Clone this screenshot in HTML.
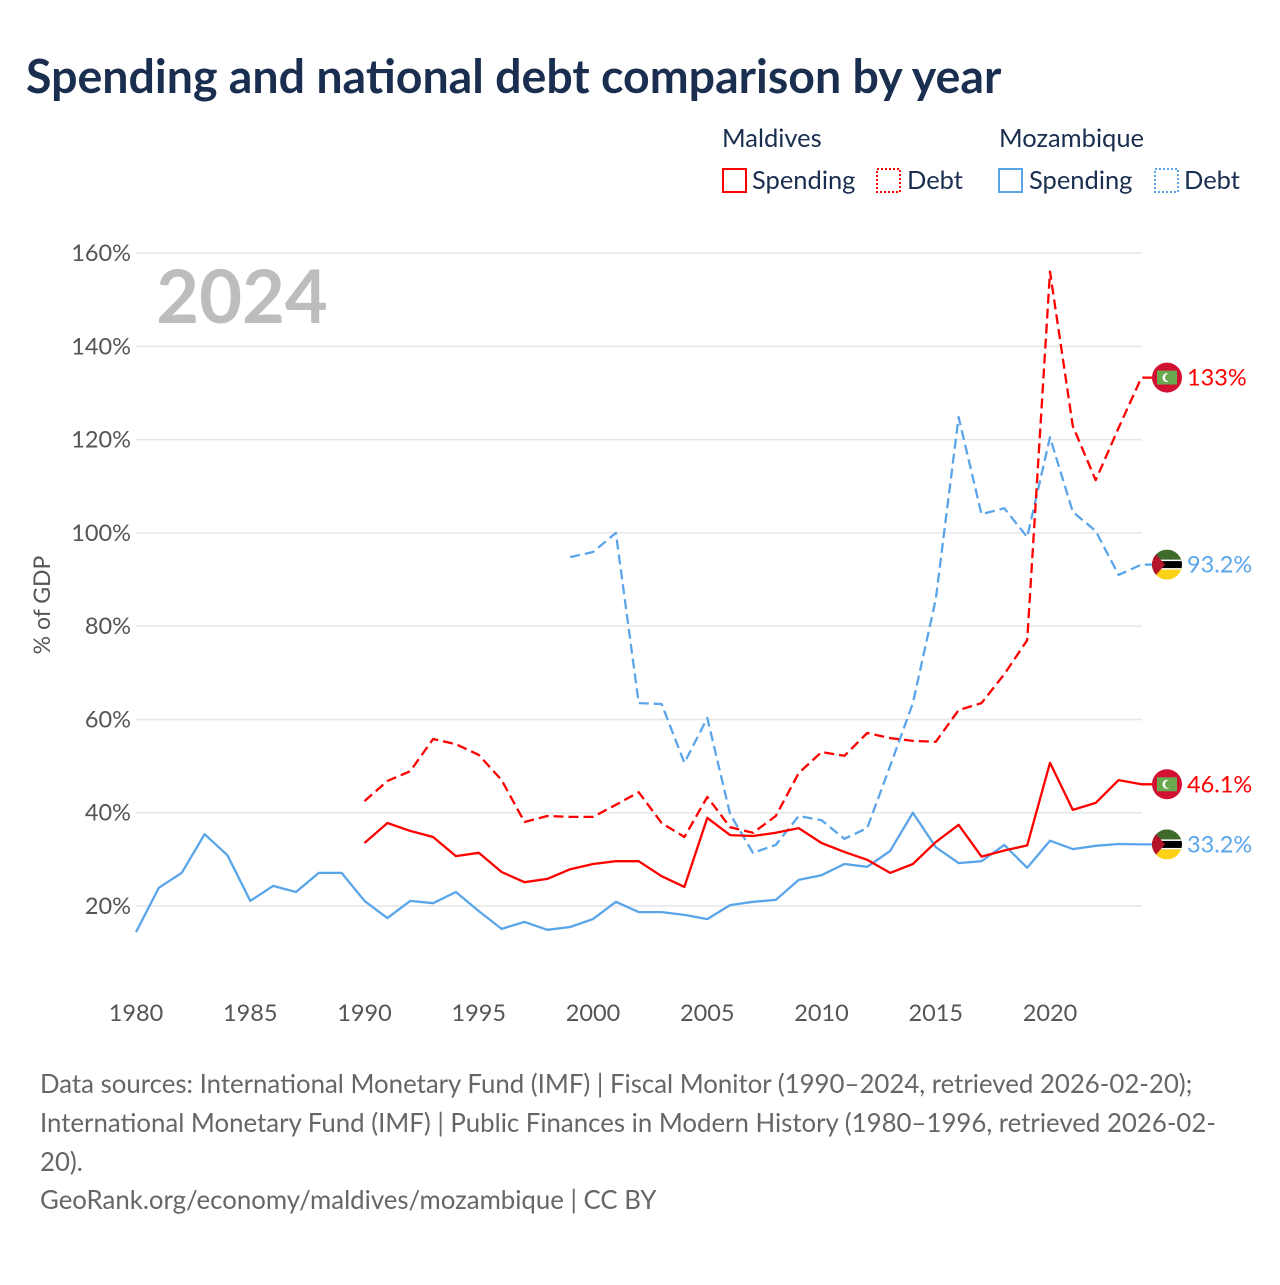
<!DOCTYPE html>
<html><head><meta charset="utf-8">
<style>
body{margin:0;background:#fff;font-family:"Liberation Sans",sans-serif;}
svg text{font-family:"Lato","Liberation Sans",sans-serif;}
</style></head>
<body>
<svg id="chart" width="1280" height="1280" xmlns="http://www.w3.org/2000/svg">
<rect width="1280" height="1280" fill="#fff"/>
<text x="26" y="93" font-size="46.5" font-weight="bold" fill="#1a2e4f">Spending and national debt comparison by year</text>
<g font-size="25.5" fill="#1a2e4f">
<text x="722" y="147">Maldives</text>
<text x="999" y="147">Mozambique</text>
<rect x="723" y="169" width="23" height="23" fill="none" stroke="#f00" stroke-width="2"/>
<text x="752" y="189">Spending</text>
<rect x="877" y="169" width="23" height="23" fill="none" stroke="#f00" stroke-width="2" stroke-dasharray="2,2"/>
<text x="907" y="189">Debt</text>
<rect x="999" y="169" width="23" height="23" fill="none" stroke="#5aa5ea" stroke-width="2"/>
<text x="1029" y="189">Spending</text>
<rect x="1155" y="169" width="23" height="23" fill="none" stroke="#5aa5ea" stroke-width="2" stroke-dasharray="2,2"/>
<text x="1184" y="189">Debt</text>
</g>
<text x="242" y="323" font-size="74" font-weight="bold" fill="#bdbdbd" text-anchor="middle">2024</text>
<text transform="translate(50,605) rotate(-90)" font-size="23" fill="#555" text-anchor="middle">% of GDP</text>
<g id="grid"></g><g id="lines"></g><g id="ends"></g>
<g font-size="25.8" fill="#666">
<text x="40" y="1093">Data sources: International Monetary Fund (IMF) | Fiscal Monitor (1990–2024, retrieved 2026-02-20);</text>
<text x="40" y="1132">International Monetary Fund (IMF) | Public Finances in Modern History (1980–1996, retrieved 2026-02-</text>
<text x="40" y="1171">20).</text>
<text x="40" y="1209">GeoRank.org/economy/maldives/mozambique | CC BY</text>
</g>
</svg>
<script>
const yTicks=[20,40,60,80,100,120,140,160];
const xTicks=[1980,1985,1990,1995,2000,2005,2010,2015,2020];
const mozSpendYears=[1980,2024];
const mozSpending=[14.4,23.9,27.1,35.4,30.9,21.1,24.3,23.0,27.1,27.1,21.1,17.4,21.1,20.6,23.0,18.9,15.1,16.6,14.9,15.5,17.2,20.9,18.7,18.7,18.1,17.2,20.2,20.9,21.3,25.6,26.6,29.0,28.4,31.8,40.0,32.6,29.2,29.6,33.1,28.2,34.0,32.2,32.9,33.3,33.2];
const mdvSpendStart=1990;
const mdvSpending=[33.5,37.8,36.1,34.8,30.7,31.4,27.3,25.1,25.8,27.9,29.0,29.6,29.6,26.4,24.1,38.9,35.2,35.0,35.7,36.7,33.5,31.6,29.9,27.1,29.0,33.7,37.4,30.6,31.9,33.0,50.7,40.6,42.1,47.0,46.1];
const mdvDebtStart=1990;
const mdvDebt=[42.5,46.8,48.9,55.8,54.7,52.4,47.0,38.0,39.3,39.1,39.1,41.7,44.4,37.8,34.8,43.4,36.9,35.7,39.3,48.5,53.0,52.2,57.1,56.0,55.4,55.2,62.0,63.5,69.7,77.0,156.0,122.9,111.3,122.5,133.3];
const mozDebtStart=1999;
const mozDebt=[94.8,95.9,100,63.5,63.3,50.7,60.3,39.7,31.4,33.1,39.3,38.4,34.4,36.7,50.0,63.5,85.8,124.8,104.0,105.3,99.1,120.5,104.5,100.4,91.0,93.2];
const endLabels=["133%","93.2%","46.1%","33.2%"];

const NS="http://www.w3.org/2000/svg";
const X=yr=>136+(yr-1980)*22.85;
const Y=v=>906-(v-20)*4.664;
function mk(tag,attrs,parent){const e=document.createElementNS(NS,tag);for(const k in attrs)e.setAttribute(k,attrs[k]);parent.appendChild(e);return e;}
const grid=document.getElementById('grid');
yTicks.forEach(t=>{
  const l=mk('line',{x1:136,x2:1142,y1:Y(t),y2:Y(t),stroke:'#e6e6e6','stroke-width':1.5},grid);
  
  
  const tx=mk('text',{x:131,y:Y(t)+8,'font-size':23.5,fill:'#555','text-anchor':'end'},grid);
  tx.textContent=t+'%';
  
  
});
xTicks.forEach(t=>{
  const tx=mk('text',{x:X(t),y:1021,'font-size':23.5,fill:'#555','text-anchor':'middle'},grid);
  tx.textContent=t;
  
  
});
const lines=document.getElementById('lines');
function series(vals,start,color,dash,name){
  let d=vals.map((v,i)=>(i?'L':'M')+X(start+i).toFixed(1)+','+Y(v).toFixed(1)).join('');
  d+='L1155,'+Y(vals[vals.length-1]).toFixed(1);
  const p=mk('path',{d:d,fill:'none',stroke:color,'stroke-width':2.3,'stroke-linejoin':'round'},lines);
  if(dash)p.setAttribute('stroke-dasharray','10,5');
  
  
}
series(mozSpending,mozSpendYears[0],'#5aa5ea',false,'mozambique-spending-line');
series(mozDebt,mozDebtStart,'#5aa5ea',true,'mozambique-debt-line');
series(mdvSpending,mdvSpendStart,'#f00',false,'maldives-spending-line');
series(mdvDebt,mdvDebtStart,'#f00',true,'maldives-debt-line');

const ends=document.getElementById('ends');
const lastVals=[mdvDebt[mdvDebt.length-1],mozDebt[mozDebt.length-1],mdvSpending[mdvSpending.length-1],mozSpending[mozSpending.length-1]];
const kinds=['mdv','moz','mdv','moz'];
lastVals.forEach((v,i)=>{
  const cx=1167,cy=Y(v);
  const g=mk('g',{},ends);
  
  
  if(kinds[i]==='mdv'){
    mk('circle',{cx:cx,cy:cy,r:15,fill:'#d21034'},g);
    mk('rect',{x:cx-10,y:cy-7,width:20,height:14,fill:'#6aa84f'},g);
    mk('circle',{cx:cx,cy:cy,r:4.5,fill:'#fff'},g);
    mk('circle',{cx:cx+2,cy:cy,r:4,fill:'#6aa84f'},g);
  } else {
    mk('clipPath',{id:'cp'+i},g).appendChild(document.createElementNS(NS,'circle'));
    const c=g.lastChild.firstChild;c.setAttribute('cx',cx);c.setAttribute('cy',cy);c.setAttribute('r',15);
    const gg=mk('g',{'clip-path':'url(#cp'+i+')'},g);
    mk('rect',{x:cx-15,y:cy-15,width:30,height:10,fill:'#3f6b2a'},gg);
    mk('rect',{x:cx-15,y:cy-5,width:30,height:10,fill:'#000'},gg);
    mk('rect',{x:cx-15,y:cy-5,width:30,height:1.5,fill:'#fff'},gg);
    mk('rect',{x:cx-15,y:cy+3.5,width:30,height:1.5,fill:'#fff'},gg);
    mk('rect',{x:cx-15,y:cy+5,width:30,height:10,fill:'#fcd116'},gg);
    mk('path',{d:`M${cx-15},${cy-15}L${cx-2},${cy}L${cx-15},${cy+15}Z`,fill:'#b5152b'},gg);
  }
  const t=mk('text',{x:1187,y:cy+8,'font-size':23.5,fill:kinds[i]==='mdv'?'#f00':'#5aa5ea'},ends);
  t.textContent=endLabels[i];
  
  
});
</script>
</body></html>
